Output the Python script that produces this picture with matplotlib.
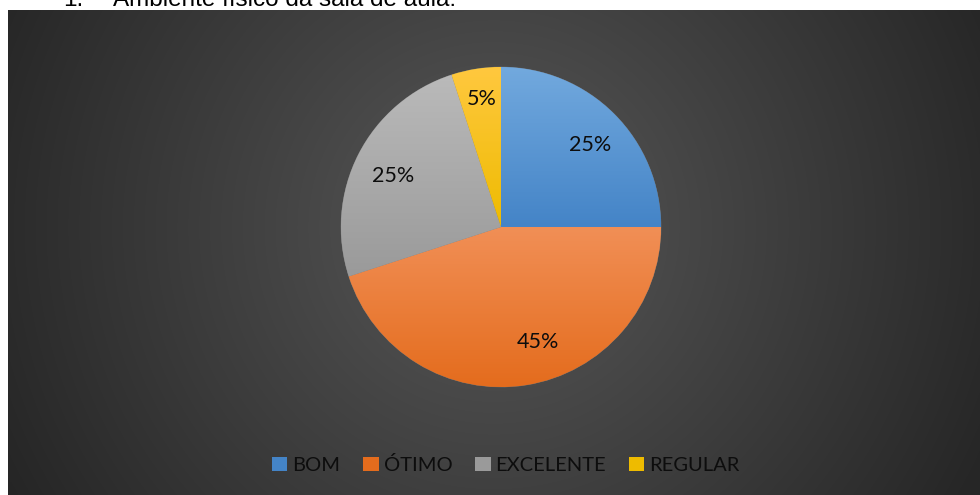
import numpy as np
import matplotlib
matplotlib.use("Agg")
from matplotlib import pyplot as plt
from matplotlib.colors import LinearSegmentedColormap
from matplotlib.patches import Patch

# data
categories = ['BOM', 'ÓTIMO', 'EXCELENTE', 'REGULAR']
values = [25, 45, 25, 5]
title = 'Ambiente físico da sala de aula:'

# gradient colours per slice (top, bottom)
top_colors = ['#72A9DE', '#F18F56', '#BABABA', '#FFC83F']
bot_colors = ['#4484C7', '#E46C1D', '#9A9A9A', '#EEBB00']

W, H = 980, 495
fig = plt.figure(figsize=(W / 100, H / 100), dpi=100)
fig.patch.set_facecolor('white')

# dark panel with radial gradient
px0, py0 = 8, 10  # panel top-left in pixels
bg = fig.add_axes([px0 / W, 0, (W - px0) / W, (H - py0) / H])
bg.set_axis_off()
pw, ph = W - px0, H - py0
yy, xx = np.mgrid[0:ph, 0:pw]
cx, cy = 493 - px0, 227 - py0
d = np.sqrt((xx - cx) ** 2 + (yy - cy) ** 2)
g = 38 + 50 * np.clip(1 - d / 545, 0, 1)
img = np.dstack([g, g, g]) / 255.0
bg.imshow(img, aspect='auto', extent=[0, 1, 0, 1], origin='upper')
bg.set_xlim(0, 1)
bg.set_ylim(0, 1)

# title, cut off at top like the screenshot
fig.text(63 / W, (H - 6) / H, '1.', fontsize=17.5, family='Liberation Sans',
         va='baseline', color='black')
fig.text(113 / W, (H - 6) / H, title, fontsize=17.5, family='Liberation Sans',
         va='baseline', color='black')

# pie axes: centre (501, 227) radius 160 px
R = 160
pcx, pcy = 501, 227
ax = fig.add_axes([(pcx - R) / W, (H - pcy - R) / H, 2 * R / W, 2 * R / H])
ax.set_axis_off()
wedges, texts, autotexts = ax.pie(values, startangle=90, counterclock=False,
                                  radius=1, autopct='%1.0f%%', pctdistance=0.77,
                                  wedgeprops=dict(linewidth=0.4, edgecolor='#777777'),
                                  textprops=dict(fontsize=15.5, family='Lato', color='#0d0d0d'))
ax.set_xlim(-1, 1)
ax.set_ylim(-1, 1)
ax.set_aspect('equal')

# vertical gradient fill clipped to each wedge
for w, c1, c2 in zip(wedges, top_colors, bot_colors):
    t = np.radians(np.linspace(w.theta1, w.theta2, 200))
    xs = np.concatenate([[0], w.r * np.cos(t)])
    ys = np.concatenate([[0], w.r * np.sin(t)])
    cmap = LinearSegmentedColormap.from_list('s', [c2, c1])
    grad = np.linspace(0, 1, 256).reshape(-1, 1)
    im = ax.imshow(grad, cmap=cmap, origin='lower', aspect='auto',
                   extent=[xs.min(), xs.max(), ys.min(), ys.max()], zorder=1.5)
    im.set_clip_path(w)
    w.set_facecolor(c2)

for t in autotexts:
    t.set_zorder(3)
    x, y = t.get_position()
    t.set_position((x + 0.01, y - 0.03))
# Excel's best-fit moved the big slice label a bit to the right
autotexts[1].set_position((0.23, -0.72))
autotexts[3].set_position((-0.12, 0.80))
ax.set_xlim(-1, 1)
ax.set_ylim(-1, 1)

handles = [Patch(facecolor=c, edgecolor='none') for c in bot_colors]
leg = fig.legend(handles, categories, loc='center', bbox_to_anchor=(506 / W, (H - 465) / H),
                 ncol=4, frameon=False, handlelength=0.75, handleheight=0.75,
                 handletextpad=0.25, columnspacing=1.15,
                 prop=dict(family='Lato', size=14.5))
for t in leg.get_texts():
    t.set_color('#0d0d0d')

fig.savefig('out.png', dpi=100, facecolor='white')
